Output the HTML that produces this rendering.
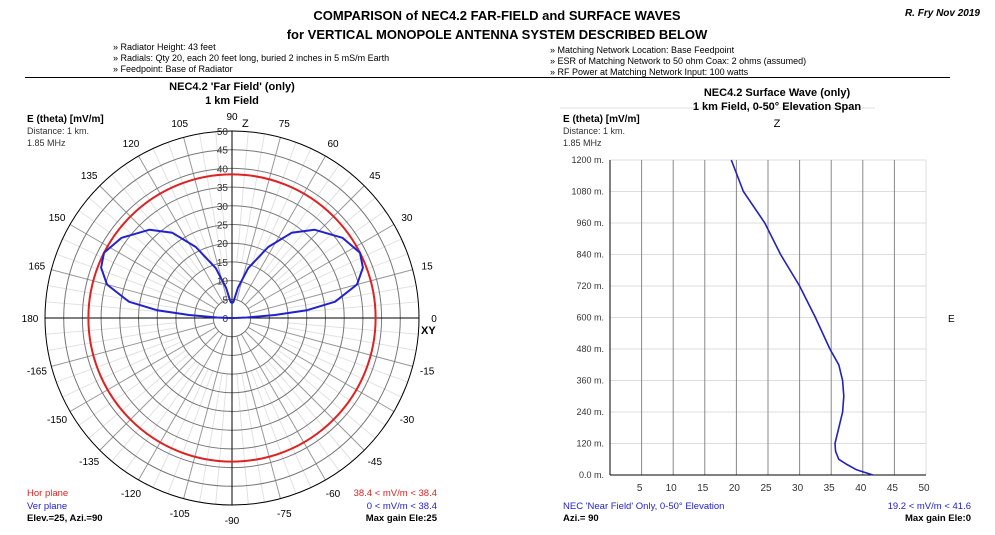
<!DOCTYPE html>
<html><head><meta charset="utf-8"><style>
body{margin:0;background:#fff;width:995px;height:530px;overflow:hidden;font-family:"Liberation Sans",sans-serif}
svg text{font-family:"Liberation Sans",sans-serif}
</style></head><body>
<svg id="s" width="995" height="530" xmlns="http://www.w3.org/2000/svg">
<g>
<text x="497" y="20" text-anchor="middle" font-size="13" font-weight="bold">COMPARISON of NEC4.2 FAR-FIELD and SURFACE WAVES</text>
<text x="497" y="39" text-anchor="middle" font-size="13" font-weight="bold">for VERTICAL MONOPOLE ANTENNA SYSTEM DESCRIBED BELOW</text>
<text x="980" y="16" text-anchor="end" font-size="10" font-weight="bold" font-style="italic">R. Fry Nov 2019</text>
<g font-size="9">
<text x="113" y="50">» Radiator Height: 43 feet</text>
<text x="113" y="61">» Radials: Qty 20, each 20 feet long, buried 2 inches in 5 mS/m Earth</text>
<text x="113" y="72">» Feedpoint: Base of Radiator</text></g>
<g font-size="9">
<text x="550" y="53">» Matching Network Location: Base Feedpoint</text>
<text x="550" y="64">» ESR of Matching Network to 50 ohm Coax: 2 ohms (assumed)</text>
<text x="550" y="75">» RF Power at Matching Network Input: 100 watts</text></g>
<line x1="25" y1="77.5" x2="950" y2="77.5" stroke="#000"/>
</g>
<g>
<text x="232" y="90" text-anchor="middle" font-size="11" font-weight="bold">NEC4.2  'Far Field' (only)</text>
<text x="232" y="104" text-anchor="middle" font-size="11" font-weight="bold">1 km Field</text>
<text x="27" y="122" font-size="10" font-weight="bold">E (theta) [mV/m]</text>
<text x="27" y="134" font-size="9" fill="#333">Distance: 1 km.</text>
<text x="27" y="146" font-size="9" fill="#333">1.85 MHz</text>
<g id="pgrid"></g><g id="pdata"></g><g id="plabels" font-size="10"></g>
<g font-size="9.5">
<text x="27" y="496" fill="#d22">Hor plane</text>
<text x="27" y="509" fill="#22c">Ver plane</text>
<text x="27" y="521" font-weight="bold" fill="#000">Elev.=25, Azi.=90</text>
<text x="437" y="496" text-anchor="end" fill="#d22">38.4 &lt; mV/m &lt; 38.4</text>
<text x="437" y="509" text-anchor="end" fill="#22c">0 &lt; mV/m &lt; 38.4</text>
<text x="437" y="521" text-anchor="end" font-weight="bold">Max gain Ele:25</text></g>
</g>
<g>
<line x1="560" y1="108" x2="875" y2="108" stroke="#ddd"/>
<text x="777" y="96" text-anchor="middle" font-size="11" font-weight="bold">NEC4.2 Surface Wave (only)</text>
<text x="777" y="110" text-anchor="middle" font-size="11" font-weight="bold">1 km Field, 0-50° Elevation Span</text>
<text x="563" y="122" font-size="10" font-weight="bold">E (theta) [mV/m]</text>
<text x="563" y="134" font-size="9" fill="#333">Distance: 1 km.</text>
<text x="563" y="146" font-size="9" fill="#333">1.85 MHz</text>
<text x="777" y="127" text-anchor="middle" font-size="11">Z</text>
<text x="948" y="322" font-size="10">E</text>
<g id="rgrid"></g><g id="rdata"></g>
<g font-size="9.5">
<text x="563" y="509" fill="#22c">NEC 'Near Field' Only, 0-50° Elevation</text>
<text x="563" y="521" font-weight="bold">Azi.= 90</text>
<text x="971" y="509" text-anchor="end" fill="#22c">19.2 &lt; mV/m &lt; 41.6</text>
<text x="971" y="521" text-anchor="end" font-weight="bold">Max gain Ele:0</text></g>
</g>
</svg>
<script>
const NS="http://www.w3.org/2000/svg";
// polar data
const horValue=38.4;
const verElev=[0,1,2,4,6,9,15,21,27,36,47,55,63,72,79,85,90];
const verE=[0,1.5,4,11.5,20.3,27.9,34.6,37.5,38.4,36.5,32.3,27.8,21.3,14,8.2,4.3,4];
const ringTicks=[5,10,15,20,25,30,35,40,45,50];
const angleLabels=[0,15,30,45,60,75,90,105,120,135,150,165,180,-165,-150,-135,-120,-105,-90,-75,-60,-45,-30,-15];
// surface data
const distM=[0,20,40,60,90,120,180,240,300,360,420,480,600,720,840,960,1080,1200];
const surfE=[41.6,39,37.5,36.2,35.7,35.6,36.2,36.8,37,36.8,36.2,34.8,32.5,30,27,24.5,21.1,19.2];
const xTicks=[5,10,15,20,25,30,35,40,45,50];
const yTicks=[0,120,240,360,480,600,720,840,960,1080,1200];
const yTickLabels=["0.0 m.","120 m.","240 m.","360 m.","480 m.","600 m.","720 m.","840 m.","960 m.","1080 m.","1200 m."];

function mk(tag,at,parent){const e=document.createElementNS(NS,tag);for(const k in at)e.setAttribute(k,at[k]);parent.appendChild(e);return e;}
const cx=232,cy=318,rmax=50,R=187;
const rs=v=>v/rmax*R;
const px=(a,v)=>cx+rs(v)*Math.cos(a*Math.PI/180), py=(a,v)=>cy-rs(v)*Math.sin(a*Math.PI/180);
const pg=document.getElementById('pgrid');
for(let a=0;a<360;a+=5){const major=a%15==0;const l=mk('line',{x1:px(a,major?5:15),y1:py(a,major?5:15),x2:px(a,50),y2:py(a,50),stroke:major?'#999':'#e2e2e2','stroke-width':1},pg);

}
ringTicks.forEach(v=>{const c=mk('circle',{cx:cx,cy:cy,r:rs(v),fill:'none',stroke:v==50?'#000':'#777','stroke-width':1},pg);

});
mk('line',{x1:cx-R,y1:cy,x2:cx+R,y2:cy,stroke:'#000'},pg);
mk('line',{x1:cx,y1:cy-R,x2:cx,y2:cy+R,stroke:'#000'},pg);
const pl=document.getElementById('plabels');
ringTicks.forEach(v=>{const t=mk('text',{x:cx-4,y:py(90,v)+4,'text-anchor':'end',fill:'#333','font-size':10},pl);t.textContent=v;

});
{const t=mk('text',{x:cx-4,y:cy+4,'text-anchor':'end',fill:'#333','font-size':10},pl);t.textContent='0';}
angleLabels.forEach(a=>{const x=cx+202*Math.cos(a*Math.PI/180),y=cy-202*Math.sin(a*Math.PI/180)+4;
const t=mk('text',{x:x,y:y,'text-anchor':'middle',fill:'#000'},pl);t.textContent=a;

});
{const t=mk('text',{x:cx+10,y:cy-191,'font-size':11},pl);t.textContent='Z';const u=mk('text',{x:421,y:334,'font-size':11,'font-weight':'bold'},pl);u.textContent='XY';}
const pd=document.getElementById('pdata');
const hc=mk('circle',{cx:cx,cy:cy,r:rs(horValue),fill:'none',stroke:'#d22','stroke-width':2},pd);


let d='';verElev.forEach((e,i)=>{d+=(i?'L':'M')+px(e,verE[i]).toFixed(1)+','+py(e,verE[i]).toFixed(1);});
for(let i=verElev.length-1;i>=0;i--){const e=180-verElev[i];d+='L'+px(e,verE[i]).toFixed(1)+','+py(e,verE[i]).toFixed(1);}
const vp=mk('path',{d:d,fill:'none',stroke:'#22c','stroke-width':2,'stroke-linejoin':'round'},pd);


// surface chart
const X0=610,X1=926,Y0=475,Y1=160;
const sx=v=>X0+v/50*(X1-X0), sy=m=>Y0-m/1200*(Y0-Y1);
const rg=document.getElementById('rgrid');
yTicks.forEach((m,i)=>{const l=mk('line',{x1:X0,y1:sy(m),x2:X1,y2:sy(m),stroke:'#ddd'},rg);


const t=mk('text',{x:604,y:sy(m)+3,'text-anchor':'end','font-size':9,fill:'#333'},rg);t.textContent=yTickLabels[i];

});
xTicks.forEach(v=>{const l=mk('line',{x1:sx(v),y1:Y1,x2:sx(v),y2:Y0,stroke:v==50?'#ddd':'#888'},rg);


const t=mk('text',{x:sx(v)-2,y:Y0+16,'text-anchor':'middle','font-size':10,fill:'#333'},rg);t.textContent=v;

});
mk('line',{x1:X0,y1:Y1,x2:X0,y2:Y0,stroke:'#000'},rg);
mk('line',{x1:X0,y1:Y0,x2:X1,y2:Y0,stroke:'#000'},rg);
let d2='';distM.forEach((m,i)=>{d2+=(i?'L':'M')+sx(surfE[i]).toFixed(1)+','+sy(m).toFixed(1);});
const sp=mk('path',{d:d2,fill:'none',stroke:'#22b','stroke-width':1.6},document.getElementById('rdata'));


</script>
</body></html>
